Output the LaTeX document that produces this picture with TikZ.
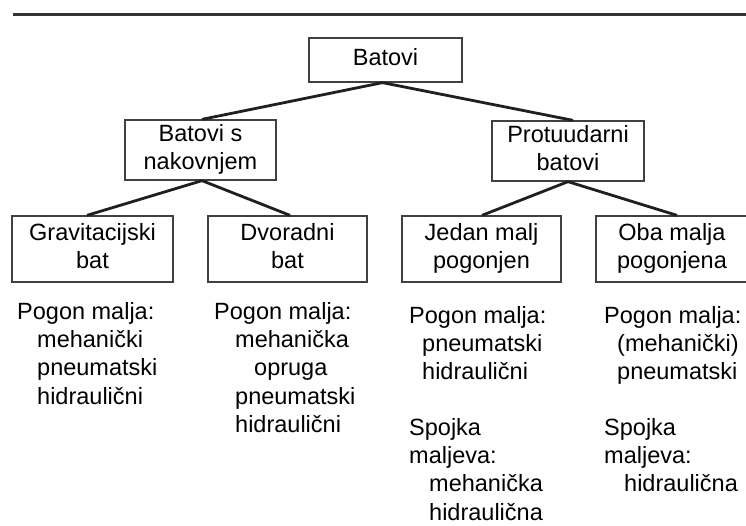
\documentclass[tikz,border=0pt]{standalone}
\usepackage{fontspec}
\setmainfont{Liberation Sans}
\begin{document}
\begin{tikzpicture}[x=1pt,y=-1pt,
  txt/.style={font=\fontsize{23.5}{28.3}\selectfont},
  box/.style={txt, draw=black!75, line width=1.3pt, inner sep=0pt, align=center},
  lvlone/.style={box, minimum width=153pt, minimum height=44pt},
  lvltwo/.style={box, minimum width=151pt, minimum height=60pt},
  lvlthree/.style={box, minimum width=160pt, minimum height=66pt},
  conn/.style={draw=black!88, line width=2.8pt},
  rule/.style={draw=black!80, line width=3pt},
  note/.style={txt, anchor=north west, inner sep=0pt, align=left}]
\useasboundingbox (0,0) rectangle (746,525);

\coordinate (tl) at (13,14);
\coordinate (tr) at (752,14);
\draw[rule] (tl) -- (tr);

\node[lvlone] (root) at (385.5,60) {\strut Batovi};
\node[lvltwo] (anv) at (200.5,150) {\strut Batovi s\\nakovnjem\strut};
\node[lvltwo, minimum width=152pt] (cnt) at (568,151) {\strut Protuudarni\\batovi\strut};
\node[lvlthree, minimum width=161pt] (grav) at (92.5,249) {\strut Gravitacijski\\bat\strut};
\node[lvlthree, minimum width=159pt] (dvo) at (287.5,249) {\strut Dvoradni\\bat\strut};
\node[lvlthree, minimum width=159pt] (jed) at (481.5,249) {\strut Jedan malj\\pogonjen\strut};
\node[lvlthree, minimum width=152pt] (oba) at (672,249) {\strut Oba malja\\pogonjena\strut};

\draw[conn] ([xshift=-3pt]root.south) -- ([xshift=1.5pt]anv.north);
\draw[conn] ([xshift=-3pt]root.south) -- ([xshift=5pt]cnt.north);
\draw[conn] ([xshift=1.5pt]anv.south) -- ([xshift=-5.5pt]grav.north);
\draw[conn] ([xshift=1.5pt]anv.south) -- ([xshift=2.5pt]dvo.north);
\draw[conn] (cnt.south) -- ([xshift=0.5pt]jed.north);
\draw[conn] (cnt.south) -- ([xshift=5pt]oba.north);

\node[note] (gravtxt) at (17,302) {Pogon malja:\\\hspace*{20pt}mehanički\\\hspace*{20pt}pneumatski\\\hspace*{20pt}hidraulični};
\node[note] (dvotxt) at (214,302) {Pogon malja:\\\hspace*{21pt}mehanička\\\hspace*{40pt}opruga\\\hspace*{21pt}pneumatski\\\hspace*{21pt}hidraulični};
\node[note] (jedtxt) at (409,306) {Pogon malja:\\\hspace*{13pt}pneumatski\\\hspace*{13pt}hidraulični\\[27pt]Spojka\\maljeva:\\\hspace*{20pt}mehanička\\\hspace*{20pt}hidraulična};
\node[note] (obatxt) at (604,306) {Pogon malja:\\\hspace*{13pt}(mehanički)\\\hspace*{13pt}pneumatski\\[27pt]Spojka\\maljeva:\\\hspace*{20pt}hidraulična};
\end{tikzpicture}
\end{document}
